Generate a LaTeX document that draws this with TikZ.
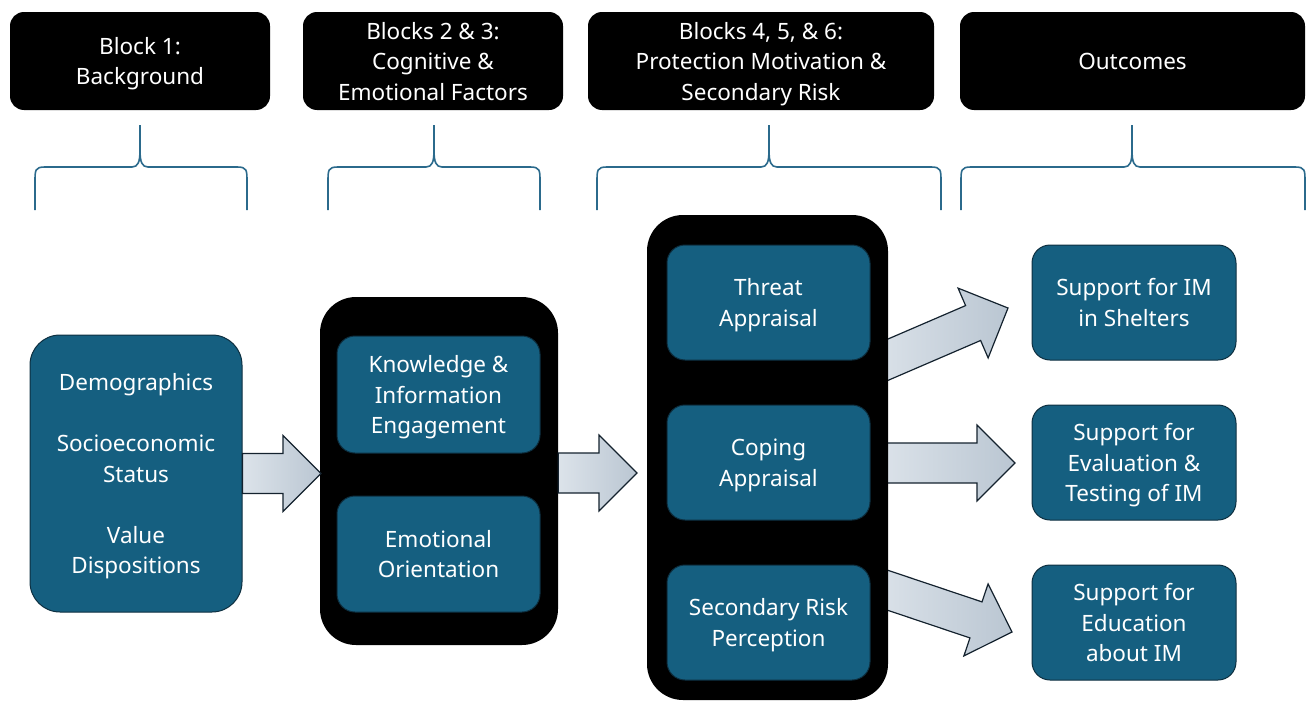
\documentclass[tikz,border=0pt]{standalone}
\usepackage{fontspec}
\setmainfont{Noto Sans}
\usetikzlibrary{calc}
\definecolor{boxblue}{HTML}{155F80}
\definecolor{boxedge}{HTML}{0D2F40}
\definecolor{bracecol}{HTML}{2B6A8C}
\definecolor{arrA}{HTML}{DCE3EA}
\definecolor{arrB}{HTML}{BAC6D2}
\definecolor{arredge}{HTML}{14222E}
\newcommand\txtfont{\fontsize{22.5}{30.5}\selectfont}
\tikzset{
  header/.style={fill=black, rounded corners=14pt, text=white, align=center, font=\txtfont, minimum height=98pt, inner sep=0pt, text depth=0pt},
  container/.style={fill=black, rounded corners=36pt, inner sep=0pt},
  inbox/.style={fill=boxblue, draw=boxedge, line width=1pt, rounded corners=18pt, text=white, align=center, font=\txtfont, inner sep=0pt, text depth=0pt},
  bigbox/.style={inbox, rounded corners=30pt},
  brace/.style={draw=bracecol, line width=1.6pt},
  blockarrow/.style={draw=arredge, line width=1.2pt, left color=arrA, right color=arrB, line join=miter},
}
\newcommand\barrow[4]{% start, end, shaft half, head half
  \coordinate (hb) at ($(#2)!38pt!(#1)$);
  \draw[blockarrow] ($(#1)!#3!90:(#2)$) -- ($(hb)!#3!90:(#2)$) -- ($(hb)!#4!90:(#2)$) -- (#2)
    -- ($(hb)!#4!-90:(#2)$) -- ($(hb)!#3!-90:(#2)$) -- ($(#1)!#3!-90:(#2)$) -- cycle;}
\newcommand\bracepath[3]{% left x, tip x, right x
  \draw[brace] (#1,210) -- (#1,182) .. controls (#1,170) and (#1,167) .. ({#1+10},167)
    -- ({#2-8},167) .. controls ({#2-2},167) and (#2,162) .. (#2,150) -- (#2,125);
  \draw[brace] (#3,210) -- (#3,182) .. controls (#3,170) and (#3,167) .. ({#3-10},167)
    -- ({#2+8},167) .. controls ({#2+2},167) and (#2,162) .. (#2,150);}
\begin{document}
\begin{tikzpicture}[x=1pt,y=-1pt]
\useasboundingbox (0,0) rectangle (1309,704);
% headers
\node[header, minimum width=260pt] (h1) at (140,61) {Block 1:\\Background};
\node[header, minimum width=260pt] (h2) at (433,61) {Blocks 2 \& 3:\\Cognitive \&\\Emotional Factors};
\node[header, minimum width=346pt] (h3) at (761,61) {Blocks 4, 5, \& 6:\\Protection Motivation \&\\Secondary Risk};
\node[header, minimum width=345pt] (h4) at (1132.5,61) {Outcomes};
% braces
\bracepath{35}{140}{247}
\bracepath{328}{434}{540}
\bracepath{597}{769}{941}
\bracepath{961}{1132}{1305}
% right arrows (behind container)
\coordinate (aAs) at (878,364);
\coordinate (aAe) at (1008,308);
\coordinate (aBs) at (878,463);
\coordinate (aBe) at (1015,463);
\coordinate (aCs) at (878,587);
\coordinate (aCe) at (1012,632);
\barrow{aAs}{aAe}{19pt}{38pt}
\barrow{aBs}{aBe}{20pt}{38pt}
\barrow{aCs}{aCe}{19pt}{38pt}
% left box
\node[bigbox, minimum width=212pt, minimum height=277pt] (bg) at (136,473.5)
  {Demographics\\[30.5pt]Socioeconomic\\Status\\[30.5pt]Value\\Dispositions};
% container 2
\node[container, minimum width=238pt, minimum height=348pt] (c2) at (439,471) {};
\node[inbox, minimum width=203pt, minimum height=117pt] (know) at (438.5,394.5) {Knowledge \&\\Information\\Engagement};
\node[inbox, minimum width=203pt, minimum height=116pt] (emo) at (438.5,554) {Emotional\\Orientation};
% container 3
\node[container, minimum width=241pt, minimum height=485pt] (c3) at (767.5,457.5) {};
\node[inbox, minimum width=203pt, minimum height=115pt] (threat) at (768.5,302.5) {Threat\\Appraisal};
\node[inbox, minimum width=203pt, minimum height=115pt] (coping) at (768.5,462.5) {Coping\\Appraisal};
\node[inbox, minimum width=203pt, minimum height=115pt] (srisk) at (768.5,622.5) {Secondary Risk\\Perception};
% outcomes
\node[inbox, minimum width=204pt, minimum height=115pt] (o1) at (1134,302.5) {Support for IM\\in Shelters};
\node[inbox, minimum width=204pt, minimum height=115pt] (o2) at (1134,462.5) {Support for\\Evaluation \&\\Testing of IM};
\node[inbox, minimum width=204pt, minimum height=115pt] (o3) at (1134,622.5) {Support for\\Education\\about IM};
% left arrows
\coordinate (a1s) at (bg.east);
\coordinate (a1e) at (321,473.5);
\coordinate (a2s) at (c2.east |- 0,473);
\coordinate (a2e) at (637,473);
\barrow{a1s}{a1e}{20pt}{38pt}
\barrow{a2s}{a2e}{20pt}{38pt}
\end{tikzpicture}
\end{document}
